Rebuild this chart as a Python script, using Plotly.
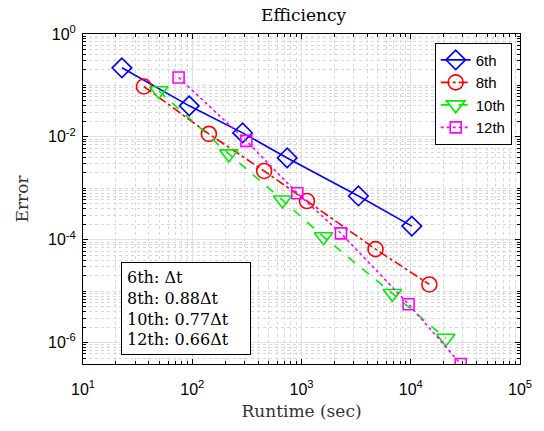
import plotly.graph_objects as go

# Data
names = ["6th", "8th", "10th", "12th"]
rt6 = [22.7, 93.8, 289, 740, 3320, 10230]
err6 = [0.220, 0.0401, 0.01194, 0.00389, 7.08e-4, 1.84e-4]
rt8 = [36.1, 142, 455, 1122, 4760, 14800]
err8 = [0.0953, 0.01142, 0.00217, 5.65e-4, 6.57e-5, 1.35e-5]
rt10 = [49.4, 216, 670, 1589, 6790, 20940]
err10 = [0.0786, 0.00466, 5.91e-4, 1.14e-4, 9.0e-6, 1.21e-6]
rt12 = [75, 313, 916, 2296, 9550, 28650]
err12 = [0.1427, 0.00834, 7.98e-4, 1.33e-4, 5.57e-6, 3.83e-7]
note_lines = ["6th: &#916;t", "8th: 0.88&#916;t", "10th: 0.77&#916;t", "12th: 0.66&#916;t"]
x_tickvals = [1e1, 1e2, 1e3, 1e4, 1e5]
x_ticktext = ["10<sup>1</sup>", "10<sup>2</sup>", "10<sup>3</sup>", "10<sup>4</sup>", "10<sup>5</sup>"]
y_tickvals = [1, 1e-2, 1e-4, 1e-6]
y_ticktext = ["10<sup>0</sup>", "10<sup>-2</sup>", "10<sup>-4</sup>", "10<sup>-6</sup>"]

# minor grid positions (every digit in each decade)
x_minor = [m * 10.0 ** e for e in range(1, 5) for m in range(2, 10)]
y_minor = [m * 10.0 ** e for e in range(-7, 0) for m in range(1, 10) if not (m == 1 and e % 2 == 0)]

colors = ["#0000ff", "#ff0000", "#00ee00", "#ff00ff"]
dashes = ["solid", "dashdot", "dash", "dot"]
symbols = ["diamond-open", "circle-open", "triangle-down-open", "square-open"]
msizes = [15, 15, 16, 11]
xs = [rt6, rt8, rt10, rt12]
ys = [err6, err8, err10, err12]

fig = go.Figure()
for n, x, y, c, d, s, ms in zip(names, xs, ys, colors, dashes, symbols, msizes):
    fig.add_trace(go.Scatter(
        x=x, y=y, name=n, mode="lines+markers",
        line=dict(color=c, dash=d, width=1.6),
        marker=dict(symbol=s, size=ms, color=c, line=dict(width=1.6, color=c)),
    ))

serif = "DejaVu Serif, Liberation Serif, serif"
sans = "Liberation Sans, Arial, sans-serif"

axis_common = dict(
    type="log", showline=True, linecolor="black", linewidth=1, mirror="allticks",
    ticks="inside", ticklen=5, tickcolor="black",
    showgrid=True, gridcolor="#e0e0e0", gridwidth=1,
    tickfont=dict(family=sans, size=16, color="black"),
    zeroline=False,
)
minor_common = dict(tickmode="array", ticks="inside", ticklen=3, tickcolor="black",
                    showgrid=True, gridcolor="#d8d8d8", griddash="dot", gridwidth=1)

fig.update_xaxes(range=[1, 5], tickmode="array", tickvals=x_tickvals, ticktext=x_ticktext,
                 ticklabelstandoff=11, minor=dict(tickvals=x_minor, **minor_common),
                 title=dict(text="Runtime (sec)", font=dict(family=serif, size=17, color="#333"), standoff=7),
                 **axis_common)
fig.update_yaxes(range=[-6.417, 0], tickmode="array", tickvals=y_tickvals, ticktext=y_ticktext,
                 ticklabelstandoff=3, minor=dict(tickvals=y_minor, **minor_common),
                 title=dict(text="Error", font=dict(family=serif, size=17, color="#333"), standoff=15),
                 **axis_common)

fig.add_annotation(
    xref="paper", yref="paper", x=0.086, y=0.027, xanchor="left", yanchor="bottom",
    text="<br>".join(note_lines), align="left", showarrow=False, width=118,
    font=dict(family=serif, size=16, color="black"),
    bordercolor="black", borderwidth=1, bgcolor="white", borderpad=5,
)

fig.update_layout(
    width=544, height=431,
    margin=dict(l=83, r=20, t=34, b=67),
    paper_bgcolor="white", plot_bgcolor="white",
    title=dict(text="Efficiency", x=0.558, xanchor="center", y=0.965, yanchor="middle",
               font=dict(family=serif, size=17, color="black")),
    legend=dict(x=0.981, y=0.974, xanchor="right", yanchor="top",
                bordercolor="black", borderwidth=1, bgcolor="white",
                font=dict(family=sans, size=15, color="black"),
                itemwidth=30, tracegroupgap=0),
    showlegend=True,
)

fig.write_html("out.html")
